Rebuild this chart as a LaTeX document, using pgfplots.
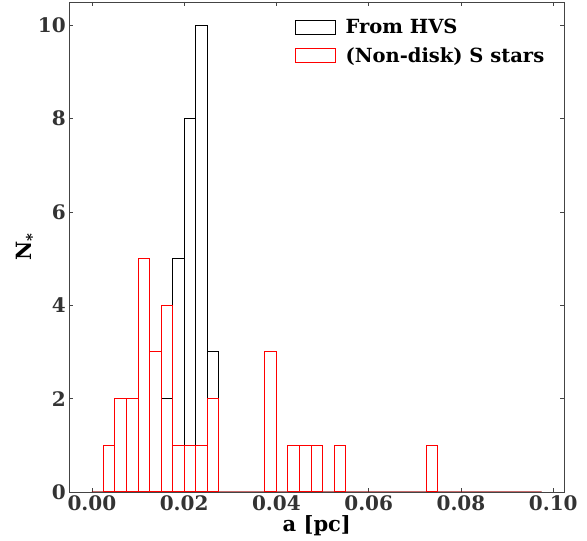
\documentclass[border=0pt]{standalone}
\usepackage{pgfplots}
\pgfplotsset{compat=1.18}
\usepackage{pgfplotstable}
\usepackage{fontspec}
\setmainfont{DejaVu Serif}
\definecolor{tickgray}{HTML}{333333}
\definecolor{spinegray}{HTML}{444444}

% bin centres (bin width 0.0025 pc) and counts
\pgfplotstableread{
x        n
0.00125  0
0.00375  0
0.00625  0
0.00875  0
0.01125  0
0.01375  0
0.01625  2
0.01875  5
0.02125  8
0.02375  10
0.02625  3
0.02875  0
0.03125  0
0.03375  0
0.03625  0
0.03875  0
0.04125  0
0.04375  0
0.04625  0
0.04875  0
0.05125  0
0.05375  0
0.05625  0
0.05875  0
0.06125  0
0.06375  0
0.06625  0
0.06875  0
0.07125  0
0.07375  0
0.07625  0
0.07875  0
0.08125  0
0.08375  0
0.08625  0
0.08875  0
0.09125  0
0.09375  0
0.09625  0
}\hvs

\pgfplotstableread{
x        n
0.00125  0
0.00375  1
0.00625  2
0.00875  2
0.01125  5
0.01375  3
0.01625  4
0.01875  1
0.02125  1
0.02375  1
0.02625  2
0.02875  0
0.03125  0
0.03375  0
0.03625  0
0.03875  3
0.04125  0
0.04375  1
0.04625  1
0.04875  1
0.05125  0
0.05375  1
0.05625  0
0.05875  0
0.06125  0
0.06375  0
0.06625  0
0.06875  0
0.07125  0
0.07375  1
0.07625  0
0.07875  0
0.08125  0
0.08375  0
0.08625  0
0.08875  0
0.09125  0
0.09375  0
0.09625  0
}\sstars

\begin{document}
\begin{tikzpicture}
\begin{axis}[
  scale only axis,
  width=495pt, height=490pt,
  xmin=-0.0049, xmax=0.1024,
  ymin=0, ymax=10.5,
  xtick={0,0.02,0.04,0.06,0.08,0.1},
  ytick={0,2,4,6,8,10},
  scaled x ticks=false,
  xticklabel style={/pgf/number format/.cd, fixed, fixed zerofill, precision=2},
  /pgf/number format/assume math mode=true,
  ticklabel style={font=\fontsize{20}{24}\selectfont\bfseries\color{tickgray}},
  tick align=inside,
  major tick length=4pt,
  tick style={color=spinegray, line width=0.6pt},
  axis line style={color=spinegray, line width=0.8pt},
  xlabel={a [pc]},
  ylabel={N\raisebox{-6pt}{\fontsize{15}{15}\selectfont *}},
  label style={font=\fontsize{21}{25}\selectfont\bfseries},
  xlabel style={yshift=2pt},
  ylabel style={yshift=-6pt},
  legend cell align=left,
  legend style={at={(0.97,0.973)}, anchor=north east, draw=none, fill=none,
    font=\fontsize{19.5}{23}\selectfont\bfseries, row sep=8pt},
  legend image code/.code={\draw[#1, line width=1pt] (0pt,-7pt) rectangle (40pt,7pt); \path (48pt,0pt);},
]
\addplot[ybar, bar shift=0pt, bar width=0.0025, color=black, fill=none, line width=1pt] table[x=x, y=n] {\hvs};
\addlegendentry{From HVS}
\addplot[ybar, bar shift=0pt, bar width=0.0025, color=red, fill=none, line width=1pt] table[x=x, y=n] {\sstars};
\addlegendentry{(Non-disk) S stars}
\end{axis}
\path (current axis.south west) ++(-69.3pt,-49pt) coordinate (bbsw);
\path (current axis.north east) ++(22.7pt,2pt) coordinate (bbne);
\path (bbsw) rectangle (bbne);
\end{tikzpicture}
\end{document}
